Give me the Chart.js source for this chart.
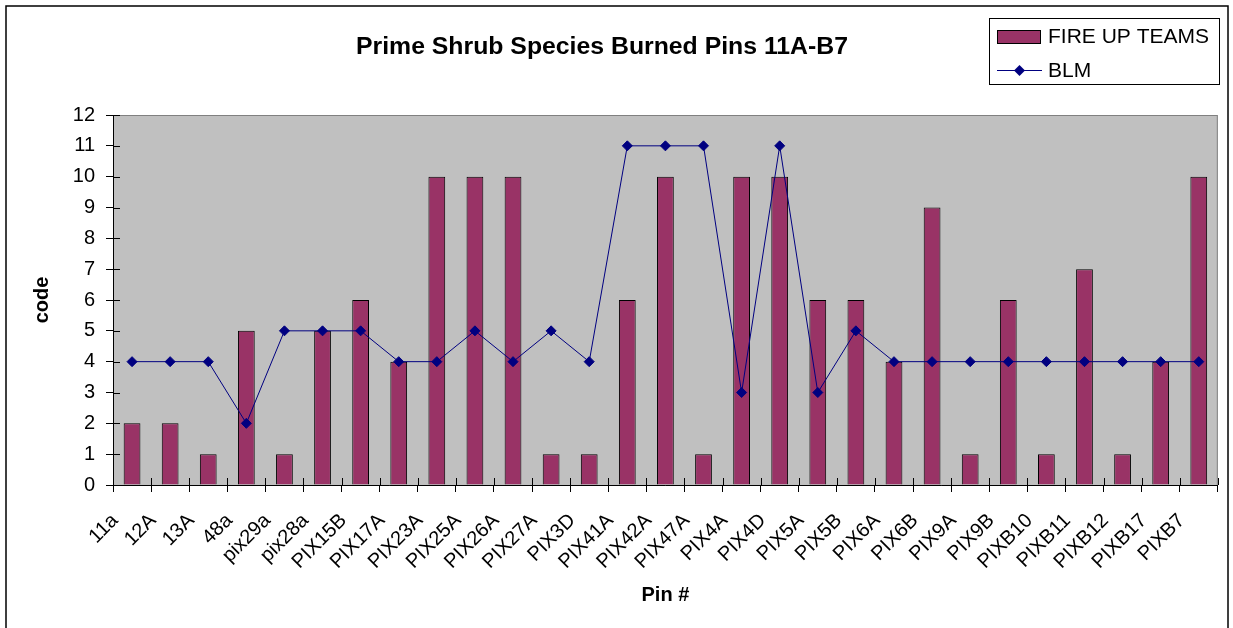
<!DOCTYPE html>
<html><head><meta charset="utf-8">
<script src="https://cdn.jsdelivr.net/npm/chart.js@4/dist/chart.umd.min.js"></script>
<style>html,body{margin:0;padding:0;background:#fff;overflow:hidden}canvas{display:block}</style>
</head><body>
<canvas id="c" width="1233" height="628"></canvas>
<script>
const categories = ['11a','12A','13A','48a','pix29a','pix28a','PIX15B','PIX17A','PIX23A','PIX25A','PIX26A','PIX27A','PIX3D','PIX41A','PIX42A','PIX47A','PIX4A','PIX4D','PIX5A','PIX5B','PIX6A','PIX6B','PIX9A','PIX9B','PIXB10','PIXB11','PIXB12','PIXB17','PIXB7'];
const fireUpTeams = [2,2,1,5,1,5,6,4,10,10,10,1,1,6,10,1,10,10,6,6,4,9,1,6,1,7,1,4,10];
const blm = [4,4,4,2,5,5,5,4,4,5,4,5,4,11,11,11,3,11,3,5,4,4,4,4,4,4,4,4,4];
const yMin = 0, yMax = 12, yStep = 1;
const chartTitle = 'Prime Shrub Species Burned Pins 11A-B7';
const xTitle = 'Pin #';
const yTitle = 'code';
const seriesNames = ['FIRE UP TEAMS', 'BLM'];

const FONT = '"Liberation Sans", Arial, Helvetica, sans-serif';

const framePlugin = {
  id: 'frame',
  beforeDraw(chart) {
    const ctx = chart.ctx, a = chart.chartArea;
    ctx.save();
    ctx.fillStyle = '#fff';
    ctx.fillRect(0, 0, chart.width, chart.height);
    ctx.strokeStyle = '#000';
    ctx.lineWidth = 1.5;
    ctx.strokeRect(6, 6, 1222, 630);
    ctx.fillStyle = '#C0C0C0';
    ctx.fillRect(a.left, a.top, a.right - a.left, a.bottom - a.top);
    ctx.strokeStyle = '#808080';
    ctx.lineWidth = 1;
    ctx.strokeRect(a.left + 0.5, a.top + 0.5, a.right - a.left - 1, a.bottom - a.top);
    ctx.fillStyle = '#000';
    ctx.font = 'bold 24.8px ' + FONT;
    ctx.textAlign = 'center';
    ctx.textBaseline = 'middle';
    ctx.fillText(chartTitle, 602, 47);
    ctx.restore();
  },
  beforeDatasetsDraw(chart) {
    const ctx = chart.ctx, a = chart.chartArea;
    const xs = chart.scales.x, ys = chart.scales.y;
    ctx.save();
    ctx.strokeStyle = '#000';
    ctx.lineWidth = 1;
    ys.ticks.forEach((t, i) => {
      const y = Math.round(ys.getPixelForTick(i)) + 0.5;
      ctx.beginPath(); ctx.moveTo(a.left, y); ctx.lineTo(a.left + 7, y); ctx.stroke();
    });
    const n = categories.length;
    const w = xs.getPixelForValue(1) - xs.getPixelForValue(0);
    for (let i = 0; i <= n; i++) {
      const x = Math.round(xs.getPixelForValue(0) - w / 2 + i * w) + 0.5;
      ctx.beginPath(); ctx.moveTo(x, a.bottom); ctx.lineTo(x, a.bottom - 7); ctx.stroke();
    }
    ctx.restore();
  },
  afterDraw(chart) {
    const ctx = chart.ctx;
    const ds = chart.data.datasets;
    ctx.save();
    ctx.fillStyle = '#fff';
    ctx.fillRect(989, 18, 230, 66);
    ctx.strokeStyle = '#000';
    ctx.lineWidth = 1;
    ctx.strokeRect(989.5, 18.5, 230, 66);
    const bar = ds.find(d => d.type === 'bar');
    const line = ds.find(d => d.type === 'line');
    ctx.fillStyle = bar.backgroundColor;
    ctx.fillRect(997, 30, 43, 13);
    ctx.strokeStyle = '#000';
    ctx.strokeRect(997.5, 30.5, 43, 13);
    ctx.strokeStyle = line.borderColor;
    ctx.beginPath(); ctx.moveTo(997, 70.5); ctx.lineTo(1042, 70.5); ctx.stroke();
    ctx.fillStyle = line.pointBackgroundColor;
    ctx.beginPath();
    ctx.moveTo(1019.5, 65); ctx.lineTo(1025, 70.5); ctx.lineTo(1019.5, 76); ctx.lineTo(1014, 70.5); ctx.closePath();
    ctx.fill();
    ctx.fillStyle = '#000';
    ctx.font = '21px ' + FONT;
    ctx.textAlign = 'left';
    ctx.textBaseline = 'middle';
    ctx.fillText(bar.label, 1048, 37.5);
    ctx.fillText(line.label, 1048, 71);
    ctx.restore();
  }
};

new Chart(document.getElementById('c'), {
  data: {
    labels: categories,
    datasets: [
      {
        type: 'bar', label: seriesNames[0], data: fireUpTeams,
        backgroundColor: '#993366', borderColor: '#000', borderWidth: 1,
        barPercentage: 0.88, categoryPercentage: 0.5, order: 1
      },
      {
        type: 'line', label: seriesNames[1], data: blm,
        borderColor: '#000080', borderWidth: 1, tension: 0, fill: false,
        pointStyle: 'rectRot', pointRadius: 5, pointHoverRadius: 5,
        pointBackgroundColor: '#000080', pointBorderColor: '#000080', order: 0
      }
    ]
  },
  options: {
    responsive: false,
    animation: false,
    devicePixelRatio: 1,
    layout: { padding: { top: 115, right: 15, left: 26, bottom: 13 } },
    plugins: { legend: { display: false }, title: { display: false }, tooltip: { enabled: false } },
    scales: {
      x: {
        type: 'category', offset: true,
        grid: { display: true, drawOnChartArea: false, drawTicks: true, tickLength: 7, color: '#000', offset: true },
        border: { color: '#000', width: 1 },
        ticks: { font: { family: FONT, size: 20 }, color: '#000', minRotation: 45, maxRotation: 45, autoSkip: false, padding: 17, labelOffset: -17 },
        title: { display: true, text: xTitle, color: '#000', font: { family: FONT, size: 20, weight: 'bold' }, padding: { top: 4, bottom: 8 } },
        afterFit(s) { s.height = 130; }
      },
      y: {
        min: yMin, max: yMax,
        grid: { display: true, drawOnChartArea: false, drawTicks: true, tickLength: 7, color: '#000' },
        border: { color: '#000', width: 1 },
        ticks: { stepSize: yStep, font: { family: FONT, size: 20 }, color: '#000', padding: 11 },
        title: { display: true, text: yTitle, color: '#000', font: { family: FONT, size: 20, weight: 'bold' }, padding: { top: 4, bottom: 4 } },
        afterFit(s) { s.width = 87; }
      }
    }
  },
  plugins: [framePlugin]
});
</script>
</body></html>
